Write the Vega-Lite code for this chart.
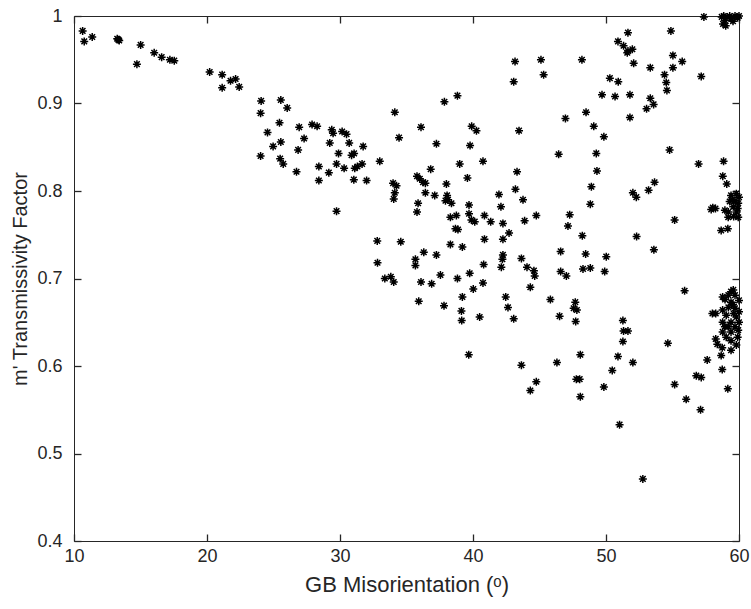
{
  "$schema": "https://vega.github.io/schema/vega-lite/v6.json",
  "width": 665,
  "height": 525,
  "autosize": "none",
  "padding": {"left": 74, "top": 16, "right": 12, "bottom": 68},
  "config": {
    "font": "Liberation Sans",
    "view": {"stroke": "#262626", "strokeWidth": 1},
    "axis": {
      "grid": false,
      "domain": false,
      "zindex": 1,
      "offset": -7,
      "ticks": true,
      "tickOpacity": 1,
      "tickColor": "#262626",
      "tickSize": 7,
      "tickWidth": 1.3,
      "labelFlush": false,
      "labelColor": "#262626",
      "labelFont": "Liberation Sans",
      "labelFontSize": 18,
      "titleColor": "#262626",
      "titleFont": "Liberation Sans",
      "titleFontSize": 20,
      "titleFontWeight": "normal"
    }
  },
  "data": {
    "values": [
      {"gb": 10.65, "m": 0.983}, {"gb": 10.77, "m": 0.971}, {"gb": 11.37, "m": 0.976},
      {"gb": 13.25, "m": 0.974}, {"gb": 13.33, "m": 0.973}, {"gb": 13.4, "m": 0.972},
      {"gb": 15.01, "m": 0.967}, {"gb": 14.73, "m": 0.945}, {"gb": 16.03, "m": 0.958},
      {"gb": 16.59, "m": 0.953}, {"gb": 17.21, "m": 0.95}, {"gb": 17.54, "m": 0.949},
      {"gb": 20.2, "m": 0.936}, {"gb": 21.14, "m": 0.933}, {"gb": 21.14, "m": 0.918},
      {"gb": 21.77, "m": 0.926}, {"gb": 22.15, "m": 0.928}, {"gb": 22.42, "m": 0.919},
      {"gb": 24.07, "m": 0.903}, {"gb": 24.03, "m": 0.889}, {"gb": 25.55, "m": 0.904},
      {"gb": 26.03, "m": 0.895}, {"gb": 25.45, "m": 0.878}, {"gb": 24.55, "m": 0.867},
      {"gb": 24.97, "m": 0.851}, {"gb": 25.55, "m": 0.856}, {"gb": 24.03, "m": 0.84},
      {"gb": 25.5, "m": 0.837}, {"gb": 25.73, "m": 0.831}, {"gb": 26.73, "m": 0.822},
      {"gb": 26.93, "m": 0.873}, {"gb": 26.85, "m": 0.847}, {"gb": 27.3, "m": 0.86},
      {"gb": 27.9, "m": 0.876}, {"gb": 28.28, "m": 0.874}, {"gb": 29.38, "m": 0.87},
      {"gb": 29.48, "m": 0.866}, {"gb": 30.16, "m": 0.868}, {"gb": 30.49, "m": 0.865},
      {"gb": 29.23, "m": 0.855}, {"gb": 30.69, "m": 0.855}, {"gb": 31.74, "m": 0.851},
      {"gb": 29.89, "m": 0.843}, {"gb": 30.87, "m": 0.841}, {"gb": 31.06, "m": 0.843},
      {"gb": 28.41, "m": 0.828}, {"gb": 29.16, "m": 0.821}, {"gb": 29.74, "m": 0.831},
      {"gb": 30.31, "m": 0.826}, {"gb": 31.11, "m": 0.826}, {"gb": 31.31, "m": 0.828},
      {"gb": 31.66, "m": 0.831}, {"gb": 32.99, "m": 0.834}, {"gb": 28.41, "m": 0.812},
      {"gb": 31.04, "m": 0.813}, {"gb": 32.0, "m": 0.812}, {"gb": 29.74, "m": 0.777},
      {"gb": 34.12, "m": 0.89}, {"gb": 34.44, "m": 0.861}, {"gb": 33.99, "m": 0.809},
      {"gb": 34.25, "m": 0.806}, {"gb": 34.12, "m": 0.798}, {"gb": 34.04, "m": 0.791},
      {"gb": 36.09, "m": 0.873}, {"gb": 37.25, "m": 0.854}, {"gb": 36.82, "m": 0.825},
      {"gb": 35.79, "m": 0.817}, {"gb": 36.0, "m": 0.814}, {"gb": 36.24, "m": 0.81},
      {"gb": 36.42, "m": 0.809}, {"gb": 36.42, "m": 0.798}, {"gb": 37.12, "m": 0.795},
      {"gb": 38.0, "m": 0.808}, {"gb": 38.05, "m": 0.795}, {"gb": 37.93, "m": 0.789},
      {"gb": 38.12, "m": 0.79}, {"gb": 38.38, "m": 0.786}, {"gb": 35.87, "m": 0.786},
      {"gb": 37.85, "m": 0.902}, {"gb": 38.83, "m": 0.909}, {"gb": 39.9, "m": 0.874},
      {"gb": 40.26, "m": 0.869}, {"gb": 39.78, "m": 0.852}, {"gb": 40.75, "m": 0.834},
      {"gb": 39.0, "m": 0.831}, {"gb": 39.58, "m": 0.815}, {"gb": 39.7, "m": 0.784},
      {"gb": 41.95, "m": 0.796}, {"gb": 42.1, "m": 0.782}, {"gb": 43.16, "m": 0.948},
      {"gb": 43.06, "m": 0.925}, {"gb": 43.46, "m": 0.869}, {"gb": 43.31, "m": 0.822},
      {"gb": 43.19, "m": 0.802}, {"gb": 57.36, "m": 0.999}, {"gb": 51.65, "m": 0.981},
      {"gb": 54.88, "m": 0.983}, {"gb": 50.9, "m": 0.971}, {"gb": 51.32, "m": 0.966},
      {"gb": 51.65, "m": 0.96}, {"gb": 51.98, "m": 0.962}, {"gb": 51.6, "m": 0.958},
      {"gb": 52.08, "m": 0.946}, {"gb": 55.03, "m": 0.955}, {"gb": 55.73, "m": 0.948},
      {"gb": 55.03, "m": 0.941}, {"gb": 53.33, "m": 0.941}, {"gb": 54.4, "m": 0.933},
      {"gb": 54.53, "m": 0.924}, {"gb": 54.58, "m": 0.915}, {"gb": 57.16, "m": 0.931},
      {"gb": 45.11, "m": 0.95}, {"gb": 45.31, "m": 0.933}, {"gb": 48.19, "m": 0.95},
      {"gb": 50.29, "m": 0.929}, {"gb": 50.92, "m": 0.925}, {"gb": 49.7, "m": 0.91},
      {"gb": 50.68, "m": 0.908}, {"gb": 51.8, "m": 0.91}, {"gb": 53.33, "m": 0.906},
      {"gb": 53.58, "m": 0.899}, {"gb": 53.05, "m": 0.894}, {"gb": 46.95, "m": 0.883},
      {"gb": 48.5, "m": 0.89}, {"gb": 49.08, "m": 0.874}, {"gb": 51.8, "m": 0.884},
      {"gb": 49.84, "m": 0.862}, {"gb": 46.44, "m": 0.842}, {"gb": 49.27, "m": 0.843},
      {"gb": 49.32, "m": 0.823}, {"gb": 54.78, "m": 0.847}, {"gb": 56.96, "m": 0.831},
      {"gb": 58.84, "m": 0.834}, {"gb": 58.78, "m": 0.817}, {"gb": 59.08, "m": 0.808},
      {"gb": 43.76, "m": 0.79}, {"gb": 48.9, "m": 0.805}, {"gb": 48.82, "m": 0.785},
      {"gb": 52.02, "m": 0.798}, {"gb": 52.28, "m": 0.793}, {"gb": 53.2, "m": 0.801},
      {"gb": 53.65, "m": 0.81}, {"gb": 58.03, "m": 0.781}, {"gb": 42.25, "m": 0.763},
      {"gb": 43.88, "m": 0.766}, {"gb": 44.76, "m": 0.772}, {"gb": 47.27, "m": 0.773},
      {"gb": 47.14, "m": 0.76}, {"gb": 48.22, "m": 0.749}, {"gb": 42.71, "m": 0.752},
      {"gb": 42.25, "m": 0.745}, {"gb": 42.25, "m": 0.727}, {"gb": 42.13, "m": 0.713},
      {"gb": 43.64, "m": 0.723}, {"gb": 44.06, "m": 0.713}, {"gb": 44.58, "m": 0.709},
      {"gb": 44.64, "m": 0.703}, {"gb": 46.59, "m": 0.731}, {"gb": 48.47, "m": 0.728},
      {"gb": 50.02, "m": 0.725}, {"gb": 46.59, "m": 0.708}, {"gb": 47.02, "m": 0.703},
      {"gb": 48.27, "m": 0.711}, {"gb": 48.82, "m": 0.712}, {"gb": 49.9, "m": 0.708},
      {"gb": 52.3, "m": 0.748}, {"gb": 55.16, "m": 0.767}, {"gb": 53.6, "m": 0.733},
      {"gb": 57.91, "m": 0.779}, {"gb": 58.23, "m": 0.78}, {"gb": 58.66, "m": 0.755},
      {"gb": 59.16, "m": 0.757}, {"gb": 44.31, "m": 0.69}, {"gb": 42.46, "m": 0.679},
      {"gb": 42.63, "m": 0.667}, {"gb": 43.06, "m": 0.654}, {"gb": 45.82, "m": 0.676},
      {"gb": 46.51, "m": 0.657}, {"gb": 47.69, "m": 0.673}, {"gb": 47.57, "m": 0.666},
      {"gb": 47.81, "m": 0.664}, {"gb": 47.72, "m": 0.651}, {"gb": 51.27, "m": 0.652},
      {"gb": 51.32, "m": 0.64}, {"gb": 51.65, "m": 0.64}, {"gb": 51.27, "m": 0.628},
      {"gb": 55.91, "m": 0.686}, {"gb": 54.65, "m": 0.626}, {"gb": 50.9, "m": 0.611},
      {"gb": 52.02, "m": 0.604}, {"gb": 48.07, "m": 0.613}, {"gb": 46.31, "m": 0.604},
      {"gb": 43.64, "m": 0.601}, {"gb": 44.76, "m": 0.582}, {"gb": 44.31, "m": 0.572},
      {"gb": 47.77, "m": 0.585}, {"gb": 48.02, "m": 0.585}, {"gb": 50.47, "m": 0.595},
      {"gb": 49.84, "m": 0.576}, {"gb": 48.07, "m": 0.565}, {"gb": 55.16, "m": 0.579},
      {"gb": 56.03, "m": 0.562}, {"gb": 56.79, "m": 0.589}, {"gb": 57.16, "m": 0.587},
      {"gb": 57.61, "m": 0.607}, {"gb": 58.66, "m": 0.612}, {"gb": 58.74, "m": 0.596},
      {"gb": 59.16, "m": 0.574}, {"gb": 51.02, "m": 0.533}, {"gb": 52.77, "m": 0.471},
      {"gb": 57.11, "m": 0.55}, {"gb": 35.79, "m": 0.776}, {"gb": 38.75, "m": 0.772},
      {"gb": 38.3, "m": 0.77}, {"gb": 39.7, "m": 0.774}, {"gb": 39.88, "m": 0.767},
      {"gb": 40.13, "m": 0.765}, {"gb": 40.86, "m": 0.772}, {"gb": 41.33, "m": 0.765},
      {"gb": 38.68, "m": 0.757}, {"gb": 38.87, "m": 0.756}, {"gb": 40.86, "m": 0.745},
      {"gb": 32.8, "m": 0.743}, {"gb": 34.57, "m": 0.742}, {"gb": 38.3, "m": 0.739},
      {"gb": 39.2, "m": 0.736}, {"gb": 36.3, "m": 0.73}, {"gb": 37.25, "m": 0.727},
      {"gb": 35.67, "m": 0.722}, {"gb": 35.67, "m": 0.715}, {"gb": 32.82, "m": 0.718},
      {"gb": 42.21, "m": 0.722}, {"gb": 40.8, "m": 0.716}, {"gb": 39.75, "m": 0.706},
      {"gb": 37.55, "m": 0.704}, {"gb": 38.83, "m": 0.7}, {"gb": 40.75, "m": 0.695},
      {"gb": 33.37, "m": 0.7}, {"gb": 33.82, "m": 0.702}, {"gb": 34.04, "m": 0.696},
      {"gb": 36.09, "m": 0.696}, {"gb": 36.89, "m": 0.694}, {"gb": 40.02, "m": 0.688},
      {"gb": 39.2, "m": 0.679}, {"gb": 35.92, "m": 0.674}, {"gb": 37.82, "m": 0.669},
      {"gb": 39.13, "m": 0.663}, {"gb": 39.15, "m": 0.652}, {"gb": 40.5, "m": 0.656},
      {"gb": 39.68, "m": 0.613},
      {"gb": 58.7, "m": 0.999}, {"gb": 58.94, "m": 0.995}, {"gb": 58.8, "m": 0.991},
      {"gb": 59.3, "m": 1.0}, {"gb": 59.7, "m": 1.0}, {"gb": 60.0, "m": 1.0},
      {"gb": 59.1, "m": 0.999}, {"gb": 59.4, "m": 0.997}, {"gb": 59.9, "m": 0.998},
      {"gb": 59.55, "m": 0.994}, {"gb": 59.0, "m": 0.989}, {"gb": 58.85, "m": 1.0},
      {"gb": 59.4, "m": 0.795}, {"gb": 59.8, "m": 0.797}, {"gb": 59.7, "m": 0.789},
      {"gb": 59.94, "m": 0.786}, {"gb": 59.57, "m": 0.782}, {"gb": 59.82, "m": 0.776},
      {"gb": 59.94, "m": 0.77}, {"gb": 59.2, "m": 0.776}, {"gb": 58.94, "m": 0.778},
      {"gb": 59.19, "m": 0.77}, {"gb": 59.3, "m": 0.788}, {"gb": 60.0, "m": 0.793},
      {"gb": 59.6, "m": 0.771}, {"gb": 59.9, "m": 0.78}, {"gb": 59.5, "m": 0.79},
      {"gb": 59.4, "m": 0.685}, {"gb": 59.2, "m": 0.681}, {"gb": 59.7, "m": 0.681},
      {"gb": 58.95, "m": 0.676}, {"gb": 60.0, "m": 0.675}, {"gb": 59.4, "m": 0.673},
      {"gb": 59.2, "m": 0.667}, {"gb": 59.7, "m": 0.666}, {"gb": 58.25, "m": 0.66},
      {"gb": 58.77, "m": 0.664}, {"gb": 60.0, "m": 0.662}, {"gb": 59.04, "m": 0.658},
      {"gb": 59.8, "m": 0.656}, {"gb": 58.77, "m": 0.65}, {"gb": 59.4, "m": 0.65},
      {"gb": 60.0, "m": 0.65}, {"gb": 58.94, "m": 0.645}, {"gb": 59.7, "m": 0.645},
      {"gb": 58.77, "m": 0.639}, {"gb": 59.4, "m": 0.639}, {"gb": 59.94, "m": 0.641},
      {"gb": 59.04, "m": 0.633}, {"gb": 58.25, "m": 0.631}, {"gb": 58.37, "m": 0.625},
      {"gb": 58.74, "m": 0.621}, {"gb": 59.4, "m": 0.629}, {"gb": 59.4, "m": 0.618},
      {"gb": 59.8, "m": 0.624}, {"gb": 58.0, "m": 0.66}, {"gb": 58.77, "m": 0.679},
      {"gb": 59.57, "m": 0.687}, {"gb": 59.6, "m": 0.66}, {"gb": 59.2, "m": 0.645},
      {"gb": 59.9, "m": 0.633}, {"gb": 59.55, "m": 0.67}
    ]
  },
  "layer": [
    {
      "mark": {
        "type": "point",
        "shape": "M-1,0H1M0,-1V1M-0.7,-0.7L0.7,0.7M-0.7,0.7L0.7,-0.7",
        "size": 64,
        "filled": false,
        "stroke": "#000000",
        "strokeWidth": 1.5,
        "opacity": 1
      },
      "encoding": {
        "x": {
          "field": "gb",
          "type": "quantitative",
          "scale": {"domain": [10, 60], "nice": false, "zero": false},
          "axis": {
            "orient": "bottom",
            "values": [10, 20, 30, 40, 50, 60],
            "labelPadding": 6,
            "title": "GB Misorientation (ᵒ)",
            "titleFontSize": 22,
            "titleBaseline": "alphabetic",
            "titleY": 57
          }
        },
        "y": {
          "field": "m",
          "type": "quantitative",
          "scale": {"domain": [0.4, 1], "nice": false, "zero": false},
          "axis": {
            "orient": "left",
            "values": [0.4, 0.5, 0.6, 0.7, 0.8, 0.9, 1],
            "format": "~g",
            "labelPadding": 12,
            "title": "m' Transmissivity Factor",
            "titleX": -51
          }
        }
      }
    },
    {
      "mark": {"type": "point", "opacity": 0},
      "encoding": {
        "x": {
          "field": "gb",
          "type": "quantitative",
          "scale": {"domain": [10, 60], "nice": false, "zero": false},
          "axis": {"orient": "top", "values": [10, 20, 30, 40, 50, 60], "labels": false, "title": null}
        },
        "y": {
          "field": "m",
          "type": "quantitative",
          "scale": {"domain": [0.4, 1], "nice": false, "zero": false},
          "axis": {"orient": "right", "values": [0.4, 0.5, 0.6, 0.7, 0.8, 0.9, 1], "labels": false, "title": null}
        }
      }
    }
  ],
  "resolve": {"axis": {"x": "independent", "y": "independent"}}
}
